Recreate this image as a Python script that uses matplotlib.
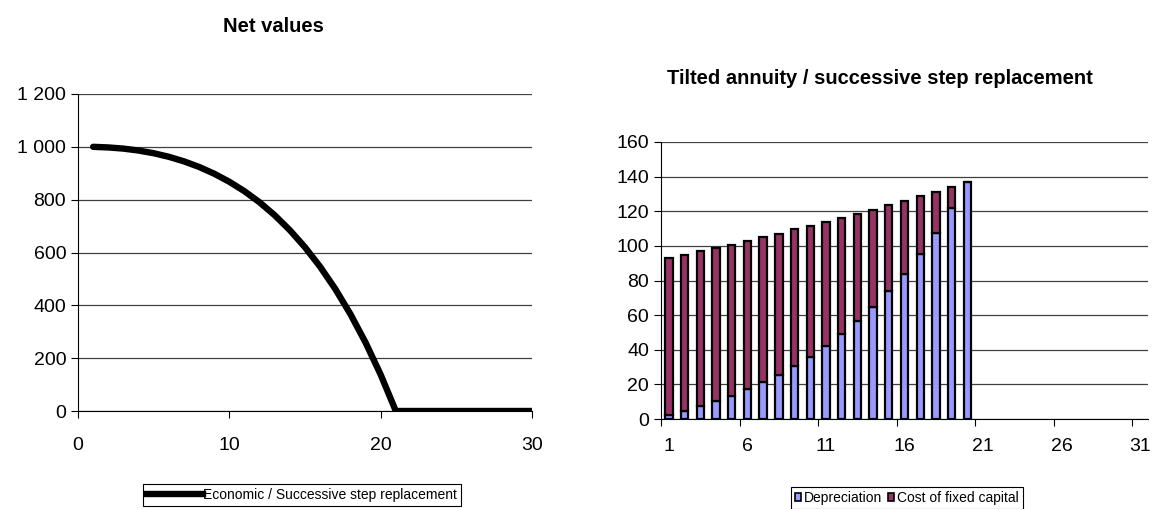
import numpy as np
import matplotlib.pyplot as plt
from matplotlib.patches import Patch
from matplotlib.lines import Line2D

plt.rcParams['font.family'] = ['Liberation Sans', 'DejaVu Sans']

# net value of the asset, years 1..30
years = list(range(1, 31))
net_value = [1000, 997.7, 993.3, 986.0, 975.8, 962.3, 945.1, 923.9, 898.3, 867.8,
             831.9, 789.9, 740.9, 684.4, 619.8, 546.0, 462.1, 366.9, 259.3, 137.7,
             0, 0, 0, 0, 0, 0, 0, 0, 0, 0]

# annual capital cost split, years 1..20 (category axis runs to 31)
periods = list(range(1, 32))
depreciation = [2.3, 4.4, 7.3, 10.2, 13.5, 17.2, 21.2, 25.6, 30.5, 35.9,
                42.0, 49.0, 56.5, 64.6, 73.8, 83.9, 95.2, 107.6, 121.6, 136.9]
total_cost = [93.1, 95.0, 96.8, 98.9, 100.6, 102.9, 105.1, 107.0, 109.7, 111.6,
              113.9, 116.2, 118.6, 120.9, 123.4, 126.1, 128.6, 131.3, 133.8, 136.9]
fixed_capital = [t - d for t, d in zip(total_cost, depreciation)]

W, H = 1160, 509
fig = plt.figure(figsize=(W / 100, H / 100), dpi=100)
fig.patch.set_facecolor('white')

def box(x0, y0, x1, y1):
    return [x0 / W, 1 - y1 / H, (x1 - x0) / W, (y1 - y0) / H]

def style(ax):
    for s in ['top', 'right']:
        ax.spines[s].set_visible(False)
    for s in ['left', 'bottom']:
        ax.spines[s].set_color('black')
        ax.spines[s].set_linewidth(0.8)
    ax.yaxis.grid(True, color='#404040', lw=0.9)
    ax.set_axisbelow(True)
    ax.tick_params(axis='both', labelsize=14, direction='out', length=5, width=0.8)

# ---- left: net values
ax1 = fig.add_axes(box(78, 94, 532, 411))
style(ax1)
ax1.plot(years, net_value, color='black', lw=4.6, solid_capstyle='round',
         solid_joinstyle='round', label='Economic / Successive step replacement')
ax1.set_xlim(0, 30)
ax1.set_ylim(0, 1200)
ax1.set_xticks([0, 10, 20, 30])
ax1.set_yticks(range(0, 1201, 200))
ax1.set_yticklabels(['0', '200', '400', '600', '800', '1 000', '1 200'])
ax1.tick_params(axis='x', pad=14)
fig.text(273 / W, 1 - 26 / H, 'Net values', ha='center', va='center',
         fontsize=14.5, fontweight='bold')

fig.legend(handles=[Line2D([0], [0], color='black', lw=4.6)],
           labels=['Economic / Successive step replacement'],
           loc='upper left', bbox_to_anchor=(143 / W, 1 - 484 / H),
           fontsize=10, frameon=True, fancybox=False, edgecolor='black',
           framealpha=1, borderpad=0.3, handlelength=4, handletextpad=0.0,
           borderaxespad=0).get_frame().set_linewidth(0.8)

# ---- right: stacked bars
ax2 = fig.add_axes(box(661, 142, 1148, 419))
style(ax2)
bx = periods[:len(depreciation)]
ax2.bar(bx, depreciation, width=0.47, color='#9999FF', edgecolor='black', lw=1.6)
ax2.bar(bx, fixed_capital, width=0.47, bottom=depreciation, color='#993366',
        edgecolor='black', lw=1.6)
ax2.set_xlim(0.5, 31.5)
ax2.set_ylim(0, 160)
ax2.set_yticks(range(0, 161, 20))
ax2.set_xticks([p - 0.5 for p in periods[::5]])
ax2.set_xticklabels([])
ax2.set_xticks(periods[::5], minor=True)
ax2.set_xticklabels([str(p) for p in periods[::5]], minor=True)
ax2.tick_params(axis='x', which='minor', length=0, labelsize=14, pad=14)
fig.text(880 / W, 1 - 78 / H, 'Tilted annuity / successive step replacement',
         ha='center', va='center', fontsize=14.5, fontweight='bold')

fig.legend(handles=[Patch(facecolor='#9999FF', edgecolor='black', lw=1.2),
                    Patch(facecolor='#993366', edgecolor='black', lw=1.2)],
           labels=['Depreciation', 'Cost of fixed capital'], ncol=2,
           loc='upper left', bbox_to_anchor=(791 / W, 1 - 487 / H),
           fontsize=10, frameon=True, fancybox=False, edgecolor='black',
           framealpha=1, borderpad=0.3, handlelength=0.45, handleheight=0.45,
           handletextpad=0.2, columnspacing=0.4,
           borderaxespad=0).get_frame().set_linewidth(0.8)

fig.savefig('out.png', dpi=100)
